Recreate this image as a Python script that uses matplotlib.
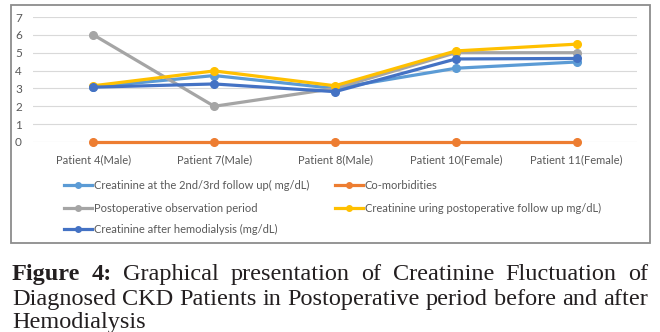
import matplotlib
matplotlib.use("Agg")
import matplotlib.pyplot as plt
from matplotlib.lines import Line2D
from matplotlib.patches import Rectangle

patients = ["Patient 4(Male)", "Patient 7(Male)", "Patient 8(Male)",
            "Patient 10(Female)", "Patient 11(Female)"]

creat_followup = [3.08, 3.72, 3.0, 4.13, 4.48]
comorbidities = [0, 0, 0, 0, 0]
postop_period = [6, 2, 3, 5, 5]
creat_postop = [3.15, 3.98, 3.15, 5.1, 5.48]
creat_hemo = [3.07, 3.25, 2.82, 4.65, 4.68]

series = [
    ("Creatinine at the 2nd/3rd follow up( mg/dL)", creat_followup, "#5B9BD5"),
    ("Co-morbidities", comorbidities, "#ED7D31"),
    ("Postoperative observation period", postop_period, "#A5A5A5"),
    ("Creatinine uring postoperative follow up mg/dL)", creat_postop, "#FFC000"),
    ("Creatinine after hemodialysis (mg/dL)", creat_hemo, "#4472C4"),
]

W, H = 660, 332
fig = plt.figure(figsize=(6.6, 3.32), dpi=100)
fig.patch.set_facecolor("white")

# chart frame
fig.add_artist(Rectangle((11 / W, 1 - 243 / H), 639 / W, 238 / H,
                         transform=fig.transFigure, fill=False,
                         edgecolor="#8C8C8C", linewidth=1.3))

ax = fig.add_axes([33 / W, 1 - 142 / H, 604 / W, 125 / H])
xs = list(range(len(patients)))
for name, vals, col in series:
    ax.plot(xs, vals, color=col, lw=2.3, marker="o", ms=5.5, label=name,
            solid_capstyle="round", clip_on=False)

ax.set_xlim(-0.5, 4.5)
ax.set_ylim(0, 7)
ax.set_yticks(range(0, 8))
ax.set_xticks(xs)
ax.set_xticklabels(patients)
ax.grid(axis="y", color="#D9D9D9", lw=0.8)
ax.set_axisbelow(True)
for s in ax.spines.values():
    s.set_visible(False)
ax.tick_params(length=0, labelcolor="#595959", labelsize=8)
ax.tick_params(axis="y", pad=8, labelsize=8.5)
ax.tick_params(axis="x", pad=9)
for lab in ax.get_xticklabels() + ax.get_yticklabels():
    lab.set_family("Lato")

# legend, drawn by hand in two columns
leg_rows = [185, 208, 229]
leg_cols = [64, 335]
slots = [(0, 0), (0, 1), (1, 0), (1, 1), (2, 0)]
for (name, vals, col), (r, c) in zip(series, slots):
    y = 1 - leg_rows[r] / H
    x0 = leg_cols[c] / W
    x1 = (leg_cols[c] + 28) / W
    fig.add_artist(Line2D([x0, (x0 + x1) / 2, x1], [y, y, y], color=col,
                          lw=2.3, marker="o", ms=4, markevery=[1],
                          transform=fig.transFigure))
    fig.text(x1 + 1.5 / W, y, name, va="center", ha="left", fontsize=8,
             color="#595959", family="Lato")

# caption, justified like the source
cap_lines = [
    [("Figure", "bold"), ("4:", "bold"), ("Graphical", "normal"),
     ("presentation", "normal"), ("of", "normal"), ("Creatinine", "normal"),
     ("Fluctuation", "normal"), ("of", "normal")],
    [(w, "normal") for w in
     "Diagnosed CKD Patients in Postoperative period before and after".split()],
]
cap_base = [280, 305]
cap_size = 17.5
xl, xr = 12, 648
fig.canvas.draw()
rend = fig.canvas.get_renderer()
for words, yb in zip(cap_lines, cap_base):
    texts = [fig.text(0, 1 - yb / H, w, fontsize=cap_size, weight=wt,
                      family="Liberation Serif", color="#231F20",
                      va="baseline", ha="left") for w, wt in words]
    widths = [t.get_window_extent(rend).width for t in texts]
    gap = (xr - xl - sum(widths)) / (len(texts) - 1)
    x = xl
    for t, wd in zip(texts, widths):
        t.set_x(x / W)
        x += wd + gap
fig.text(xl / W, 1 - 328 / H, "Hemodialysis", fontsize=cap_size,
         family="Liberation Serif", color="#231F20", va="baseline", ha="left")

fig.savefig("out.png", dpi=100)
